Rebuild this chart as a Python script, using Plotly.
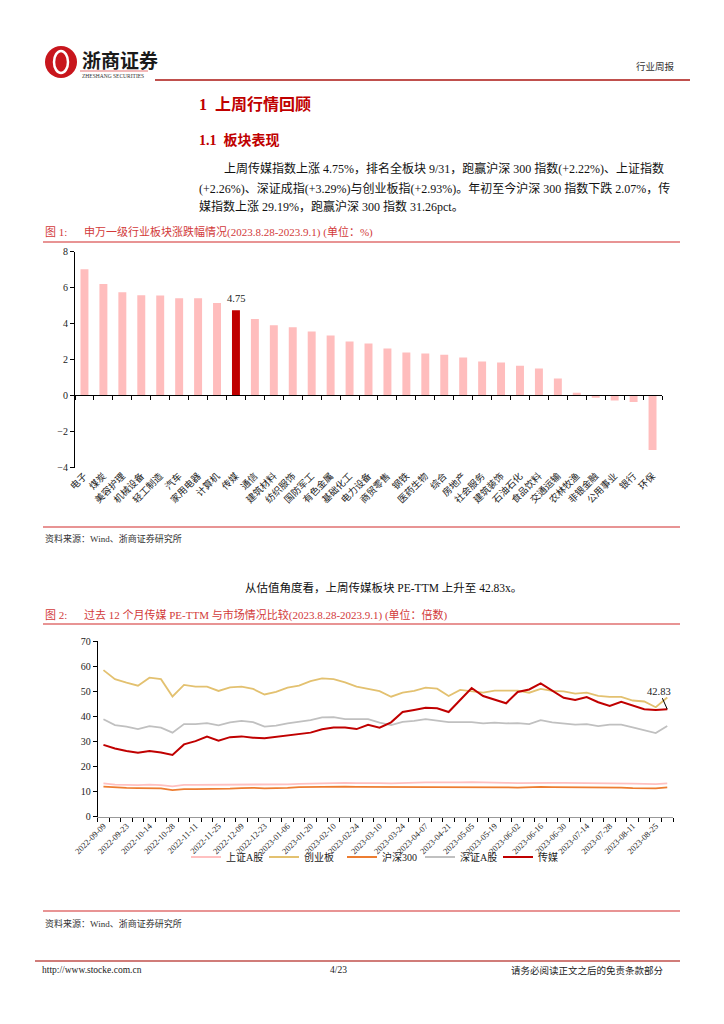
import plotly.graph_objects as go

# ---------------- data ----------------
industries = ["电子", "煤炭", "美容护理", "机械设备", "轻工制造", "汽车", "家用电器", "计算机", "传媒", "通信",
              "建筑材料", "纺织服饰", "国防军工", "有色金属", "基础化工", "电力设备", "商贸零售", "钢铁", "医药生物", "综合",
              "房地产", "社会服务", "建筑装饰", "石油石化", "食品饮料", "交通运输", "农林牧渔", "非银金融", "公用事业", "银行", "环保"]
changes = [7.03, 6.20, 5.75, 5.58, 5.56, 5.41, 5.41, 5.15, 4.75, 4.26,
           3.91, 3.80, 3.57, 3.35, 3.01, 2.90, 2.62, 2.40, 2.34, 2.27,
           2.12, 1.90, 1.84, 1.67, 1.51, 0.95, 0.17, -0.09, -0.26, -0.35, -3.01]
highlight = "传媒"

dates = ["2022-09-09", "2022-09-16", "2022-09-23", "2022-09-30", "2022-10-14", "2022-10-21", "2022-10-28", "2022-11-04",
         "2022-11-11", "2022-11-18", "2022-11-25", "2022-12-02", "2022-12-09", "2022-12-16", "2022-12-23", "2022-12-30",
         "2023-01-06", "2023-01-13", "2023-01-20", "2023-02-03", "2023-02-10", "2023-02-17", "2023-02-24", "2023-03-03",
         "2023-03-10", "2023-03-17", "2023-03-24", "2023-03-31", "2023-04-07", "2023-04-14", "2023-04-21", "2023-04-28",
         "2023-05-05", "2023-05-12", "2023-05-19", "2023-05-26", "2023-06-02", "2023-06-09", "2023-06-16", "2023-06-21",
         "2023-06-30", "2023-07-07", "2023-07-14", "2023-07-21", "2023-07-28", "2023-08-04", "2023-08-11", "2023-08-18",
         "2023-08-25", "2023-09-01"]
sh_a = [13.3, 12.8, 12.7, 12.6, 12.8, 12.6, 12.1, 12.7, 12.7, 12.7, 12.7, 12.8, 13.0, 13.0, 12.7, 12.7, 12.9, 13.1,
        13.2, 13.4, 13.5, 13.5, 13.4, 13.5, 13.4, 13.3, 13.5, 13.6, 13.7, 13.7, 13.6, 13.7, 13.8, 13.6, 13.5, 13.5,
        13.4, 13.5, 13.6, 13.5, 13.5, 13.5, 13.3, 13.5, 13.5, 13.4, 13.2, 13.1, 13.0, 13.3]
cyb = [58.4, 54.8, 53.4, 52.2, 55.4, 54.8, 47.9, 52.5, 51.8, 51.8, 50.1, 51.5, 51.8, 50.9, 48.7, 49.7, 51.4, 52.2,
       54.0, 55.1, 54.8, 53.5, 51.8, 51.0, 50.0, 47.8, 49.4, 50.1, 51.4, 51.0, 48.1, 50.5, 49.9, 49.4, 50.2, 50.1,
       50.2, 49.4, 50.9, 50.1, 49.9, 49.0, 49.4, 48.1, 47.7, 47.7, 46.3, 45.9, 43.6, 47.5]
hs300 = [12.0, 11.6, 11.5, 11.4, 11.4, 11.3, 10.6, 11.0, 11.0, 11.0, 11.0, 11.2, 11.4, 11.5, 11.3, 11.3, 11.5, 11.8,
         11.9, 12.0, 12.0, 12.0, 11.9, 11.9, 11.8, 11.8, 11.9, 12.0, 12.0, 12.0, 12.0, 12.0, 11.9, 11.8, 11.7, 11.7,
         11.6, 11.8, 11.9, 11.8, 11.8, 11.8, 11.6, 11.7, 11.7, 11.6, 11.4, 11.3, 11.3, 11.7]
sz_a = [38.8, 36.5, 35.9, 34.9, 36.1, 35.5, 33.5, 36.9, 36.9, 37.3, 36.4, 37.6, 38.2, 37.7, 35.9, 36.3, 37.2, 37.7,
        38.5, 39.6, 39.7, 38.9, 38.9, 38.9, 37.5, 36.5, 37.8, 38.2, 38.9, 38.2, 37.7, 37.7, 37.7, 37.2, 37.5, 37.2,
        37.3, 36.9, 38.5, 37.6, 37.1, 36.7, 36.9, 36.1, 36.7, 36.7, 35.6, 34.5, 33.3, 36.1]
media = [28.6, 27.2, 26.2, 25.5, 26.2, 25.6, 24.6, 28.8, 30.1, 31.9, 30.3, 31.7, 32.0, 31.5, 31.3, 31.9, 32.5, 32.9,
         33.5, 34.8, 35.5, 35.5, 34.9, 36.6, 35.5, 37.6, 41.7, 42.5, 43.4, 43.2, 41.7, 46.5, 51.3, 48.1, 46.5, 45.2,
         49.7, 50.7, 53.1, 50.1, 47.4, 46.5, 47.7, 45.6, 44.1, 45.8, 44.4, 42.8, 42.5, 42.83]
series_names = ["上证A股", "创业板", "沪深300", "深证A股", "传媒"]

# ---------------- page geometry helpers ----------------
OFF = 8
W, H = 724 - OFF, 1024 - OFF
def px(x): return (x - OFF) / W
def py(y): return 1 - (y - OFF) / H

SERIF = "Liberation Serif, Noto Sans CJK SC, serif"
RED = "#C00000"
CAP = "#D23A3A"
RULE = "#E07070"

fig = go.Figure()

# ---------------- chart 1: bars ----------------
bar_colors = [RED if n == highlight else "#FFBDBD" for n in industries]
fig.add_trace(go.Bar(x=industries, y=changes, marker=dict(color=bar_colors, line=dict(width=0)),
                     width=0.42, xaxis="x", yaxis="y", showlegend=False, hoverinfo="x+y"))
fig.add_trace(go.Scatter(x=industries, y=changes, xaxis="x2", yaxis="y", mode="markers",
                         marker=dict(opacity=0), showlegend=False, hoverinfo="skip"))

# ---------------- chart 2: lines ----------------
line_colors = ["#FFC0C0", "#E3C170", "#ED7D31", "#C0C0C0", "#C00000"]
line_widths = [1.8, 1.8, 1.8, 1.8, 2.0]
for name, vals, col, lw in zip(series_names, [sh_a, cyb, hs300, sz_a, media], line_colors, line_widths):
    fig.add_trace(go.Scatter(x=dates, y=vals, name=name, mode="lines", line=dict(color=col, width=lw),
                             xaxis="x3", yaxis="y3"))

ax_common = dict(showgrid=False, zeroline=False, automargin=False)
fig.update_layout(
    width=W, height=H, margin=dict(l=0, r=0, t=0, b=0),
    paper_bgcolor="white", plot_bgcolor="rgba(0,0,0,0)",
    font=dict(family=SERIF, size=10, color="#222"),
    xaxis=dict(domain=[px(75), px(662)], anchor="y", type="category", categoryorder="array",
               categoryarray=industries, range=[-0.5, len(industries) - 0.5], showline=False, ticks="",
               tickangle=-45, tickfont=dict(size=9.5, family=SERIF, color="#222"), **ax_common),
    xaxis2=dict(overlaying="x", anchor="free", position=py(395), type="category", categoryorder="array",
                categoryarray=industries, range=[-0.5, len(industries) - 0.5], showline=True, linecolor="black",
                linewidth=1, ticks="outside", tickson="boundaries", ticklen=4, tickcolor="black",
                showticklabels=False, side="bottom", **ax_common),
    yaxis=dict(domain=[py(467.7), py(251.7)], anchor="x", range=[-4, 8], dtick=2, showline=True,
               linecolor="black", linewidth=1, ticks="outside", ticklen=4, tickcolor="black",
               tickfont=dict(size=10, family=SERIF, color="#222"), **ax_common),
    xaxis3=dict(domain=[px(97.7), px(673)], anchor="y3", type="category", range=[-0.5, len(dates) - 0.5],
                tickmode="array", tickvals=dates,
                ticktext=[d if i % 2 == 0 else "" for i, d in enumerate(dates)],
                tickson="boundaries", ticks="outside", ticklen=4, tickcolor="black", showline=True,
                linecolor="#999999", linewidth=1, tickangle=-45,
                tickfont=dict(size=8.5, family=SERIF, color="#222"), **ax_common),
    yaxis3=dict(domain=[py(816.7), py(641)], anchor="x3", range=[0, 70], dtick=10, showline=True,
                linecolor="black", linewidth=1, ticks="outside", ticklen=4, tickcolor="black",
                tickfont=dict(size=10, family=SERIF, color="#222"), **ax_common),
    legend=dict(orientation="h", x=px(381), xanchor="center", y=py(857), yanchor="middle",
                font=dict(size=10, family=SERIF, color="#222"), bgcolor="rgba(0,0,0,0)",
                itemwidth=30, entrywidth=33, entrywidthmode="pixels", tracegroupgap=0),
    bargap=0.58,
)

ann = []
def text(x, y, s, size=11, color="#111", anchor="left", family=SERIF):
    ann.append(dict(x=px(x), y=py(y), xref="paper", yref="paper", text=s, showarrow=False,
                    xanchor=anchor, yanchor="middle", font=dict(size=size, color=color, family=family)))

# header
text(80, 61, "<b>浙商证券</b>", size=19, color="#1a1a1a")
text(80, 75.5, "ZHESHANG SECURITIES", size=5.5, color="#333")
text(677, 66, "行业周报", size=9.5, color="#333", anchor="right")
# headings & paragraph
text(197, 104, "<b>1  上周行情回顾</b>", size=16, color=RED)
text(197, 140, "<b>1.1  板块表现</b>", size=14, color=RED)
text(222, 169, "上周传媒指数上涨 4.75%，排名全板块 9/31，跑赢沪深 300 指数(+2.22%)、上证指数", size=12)
text(197, 188, "(+2.26%)、深证成指(+3.29%)与创业板指(+2.93%)。年初至今沪深 300 指数下跌 2.07%，传", size=12)
text(197, 207, "媒指数上涨 29.19%，跑赢沪深 300 指数 31.26pct。", size=12)
# figure 1 captions
text(43, 232, "图 1:", size=11, color=CAP)
text(82, 232, "申万一级行业板块涨跌幅情况(2023.8.28-2023.9.1) (单位：%)", size=11, color=CAP)
text(43, 538, "资料来源：Wind、浙商证券研究所", size=9, color="#333")
# figure 2 captions
text(383, 587, "从估值角度看，上周传媒板块 PE-TTM 上升至 42.83x。", size=11.5, anchor="center")
text(43, 615, "图 2:", size=11, color=CAP)
text(82, 615, "过去 12 个月传媒 PE-TTM 与市场情况比较(2023.8.28-2023.9.1) (单位：倍数)", size=11, color=CAP)
text(43, 923, "资料来源：Wind、浙商证券研究所", size=9, color="#333")
# footer
text(40, 970, "http://www.stocke.com.cn", size=9.5, color="#222")
text(338, 970, "4/23", size=9.5, color="#222", anchor="center")
text(666, 970, "请务必阅读正文之后的免责条款部分", size=9.5, color="#222", anchor="right")

# data labels
ann.append(dict(x=highlight, y=changes[industries.index(highlight)], xref="x", yref="y",
                text=f"{changes[industries.index(highlight)]:.2f}", showarrow=False, yanchor="bottom",
                yshift=4, font=dict(size=10.5, family=SERIF, color="#222")))
ann.append(dict(x=dates[-1], y=media[-1], xref="x3", yref="y3", text=f"{media[-1]:.2f}", showarrow=True,
                arrowhead=0, arrowwidth=1, arrowcolor="black", ax=-8, ay=-18,
                font=dict(size=10.5, family=SERIF, color="#222")))
fig.update_layout(annotations=ann)

shapes = []
def hline(x0, x1, y, color=RULE, width=1.5):
    shapes.append(dict(type="line", xref="paper", yref="paper", x0=px(x0), x1=px(x1), y0=py(y), y1=py(y),
                       line=dict(color=color, width=width)))
hline(155, 690, 80, color="#C0504D", width=2)
hline(80, 148, 71, color="#F2B8B8", width=2)
hline(43, 680, 242)
hline(43, 680, 527)
hline(43, 680, 624)
hline(43, 680, 911)
hline(35, 680, 961, color="#C0504D", width=1.5)
# logo
shapes.append(dict(type="circle", xref="paper", yref="paper", x0=px(45), x1=px(77), y0=py(78), y1=py(46),
                   fillcolor="#C8161D", line=dict(width=0)))
shapes.append(dict(type="circle", xref="paper", yref="paper", x0=px(54), x1=px(68), y0=py(73), y1=py(51),
                   fillcolor="rgba(0,0,0,0)", line=dict(color="white", width=2.5)))
shapes.append(dict(type="rect", xref="paper", yref="paper", x0=px(59.5), x1=px(62.5), y0=py(70), y1=py(54),
                   fillcolor="#C8161D", line=dict(width=0)))
fig.update_layout(shapes=shapes)

fig.write_html("out.html")
